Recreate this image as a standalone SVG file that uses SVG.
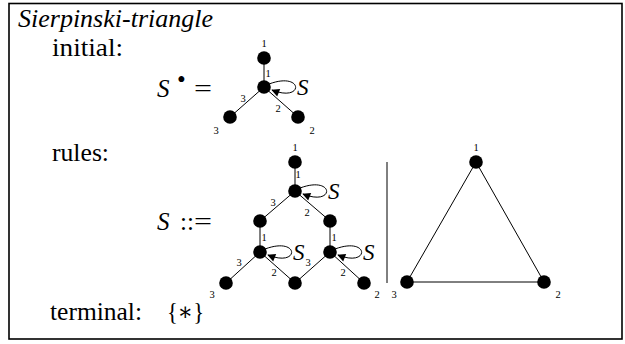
<svg xmlns="http://www.w3.org/2000/svg" width="625" height="344" viewBox="0 0 625 344" font-family="'Liberation Serif', 'Times New Roman', Times, 'DejaVu Serif', serif">
<style>
text{font-family:'Liberation Serif','Times New Roman',Times,'DejaVu Serif',serif;fill:#000}
.t{font-size:25px}
.it{font-size:25px;font-style:italic}
.lb{font-size:23px;font-style:italic}
.s{font-size:10.5px;text-anchor:middle}
.e{stroke:#000;stroke-width:1;fill:none}
.n{fill:#000}
</style>
<defs>
<marker id="ah" viewBox="0 0 10 10" refX="9" refY="5" markerWidth="10" markerHeight="8" markerUnits="userSpaceOnUse" orient="auto">
<path d="M0,0 L10,5 L0,10 z" fill="#000"/>
</marker>
</defs>
<rect x="9" y="3.5" width="613" height="335.5" fill="none" stroke="#000" stroke-width="1.6"/>
<text class="it" x="18" y="27" textLength="195" lengthAdjust="spacingAndGlyphs">Sierpinski-triangle</text>
<text class="t" x="52" y="56" textLength="71" lengthAdjust="spacingAndGlyphs">initial:</text>
<text class="t" x="52" y="161" textLength="57" lengthAdjust="spacingAndGlyphs">rules:</text>
<text class="t" x="50" y="320" textLength="92" lengthAdjust="spacingAndGlyphs">terminal:</text>
<text class="t" x="167" y="320" textLength="37" lengthAdjust="spacingAndGlyphs">{∗}</text>
<g id="initial-eq"><text class="it" x="157" y="97">S</text><text class="t" x="177" y="88" font-size="16">•</text><text class="t" x="194" y="97" textLength="18" lengthAdjust="spacingAndGlyphs">=</text></g>
<g id="rules-eq"><text class="it" x="157" y="230">S</text><text class="t" x="180" y="230">::</text><text class="t" x="194" y="230" textLength="18" lengthAdjust="spacingAndGlyphs">=</text></g>

<g id="connectors">
<path class="e" d="M264,58 L264,87 M264,87 L230,117 M264,87 L298,117"/>
<path class="e" d="M269,84 C304,71 304,103 272,90" marker-end="url(#ah)"/>
<path class="e" d="M295,162 L295,191 L260,221 L260,252 L226,283 M295,191 L330,221 L330,252 L364,283 M260,252 L295,283 L330,252"/>
<path class="e" d="M300,188 C335,175 335,207 303,194" marker-end="url(#ah)"/>
<path class="e" d="M265,249 C300,236 300,268 268,255" marker-end="url(#ah)"/>
<path class="e" d="M335,249 C370,236 370,268 338,255" marker-end="url(#ah)"/>
<path class="e" d="M387,162 L387,283"/>
<path class="e" d="M476,162 L407,282 L544,282 Z"/>
</g>

<g id="init-top"><circle class="n" cx="264" cy="58" r="6.8"/><text class="s" x="264" y="47">1</text></g>
<g id="init-center"><circle class="n" cx="264" cy="87" r="6.8"/><text class="s" x="268" y="77">1</text><text class="s" x="243" y="102">3</text><text class="s" x="278" y="112">2</text><text class="lb" x="297" y="95">S</text></g>
<g id="init-left"><circle class="n" cx="230" cy="117" r="6.8"/><text class="s" x="216" y="134">3</text></g>
<g id="init-right"><circle class="n" cx="298" cy="117" r="6.8"/><text class="s" x="312" y="134">2</text></g>

<g id="r-top"><circle class="n" cx="295" cy="162" r="6.8"/><text class="s" x="295" y="151">1</text></g>
<g id="r-c"><circle class="n" cx="295" cy="191" r="6.8"/><text class="s" x="298" y="178">1</text><text class="s" x="273" y="206">3</text><text class="s" x="307" y="216">2</text><text class="lb" x="328" y="199">S</text></g>
<g id="r-a"><circle class="n" cx="260" cy="221" r="6.8"/></g>
<g id="r-b"><circle class="n" cx="330" cy="221" r="6.8"/></g>
<g id="r-d"><circle class="n" cx="260" cy="252" r="6.8"/><text class="s" x="264" y="241">1</text><text class="s" x="239" y="266">3</text><text class="s" x="274" y="276">2</text><text class="lb" x="293" y="260">S</text></g>
<g id="r-e"><circle class="n" cx="330" cy="252" r="6.8"/><text class="s" x="334" y="241">1</text><text class="s" x="308" y="266">3</text><text class="s" x="343" y="276">2</text><text class="lb" x="363" y="260">S</text></g>
<g id="r-f"><circle class="n" cx="226" cy="283" r="6.8"/><text class="s" x="212" y="298">3</text></g>
<g id="r-g"><circle class="n" cx="295" cy="283" r="6.8"/></g>
<g id="r-h"><circle class="n" cx="364" cy="283" r="6.8"/><text class="s" x="377" y="298">2</text></g>

<g id="tri-1"><circle class="n" cx="476" cy="162" r="6.8"/><text class="s" x="476" y="151">1</text></g>
<g id="tri-3"><circle class="n" cx="407" cy="282" r="6.8"/><text class="s" x="394" y="298">3</text></g>
<g id="tri-2"><circle class="n" cx="544" cy="282" r="6.8"/><text class="s" x="558" y="298">2</text></g>
</svg>
